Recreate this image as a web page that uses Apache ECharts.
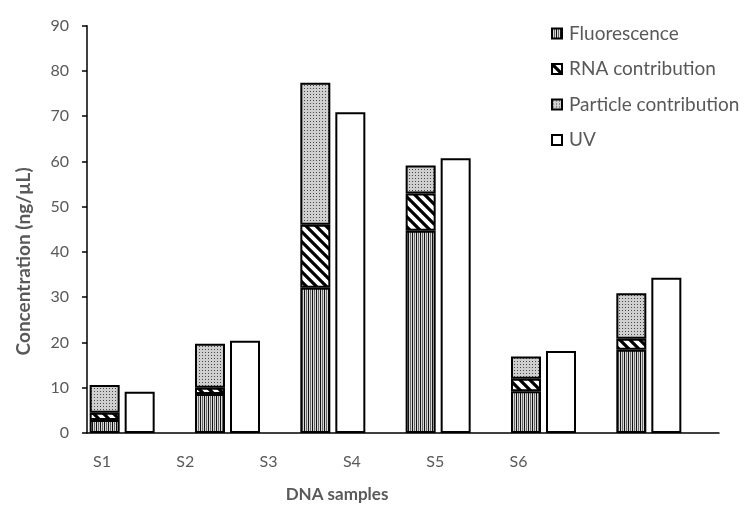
<!DOCTYPE html>
<html>
<head>
<meta charset="utf-8">
<script src="https://cdn.jsdelivr.net/npm/echarts@6/dist/echarts.min.js"></script>
<style>
html,body{margin:0;padding:0;background:#fff;}
#chart{width:749px;height:508px;}
</style>
</head>
<body>
<div id="chart"></div>
<script>
// ---- data ----
const categories = ['S1', 'S2', 'S3', 'S4', 'S5', 'S6'];
const fluorescence = [2.9, 8.6, 32.1, 44.7, 9.2, 18.4];
const rnaContribution = [1.6, 1.4, 13.9, 8.2, 2.8, 2.4];
const particleContribution = [6.1, 9.7, 31.4, 6.2, 4.9, 10.1];
const uv = [9.1, 20.4, 70.9, 60.7, 18.1, 34.3];
const yTicks = [0, 10, 20, 30, 40, 50, 60, 70, 80, 90];

// ---- fill patterns ----
function makePattern(w, h, draw) {
  const c = document.createElement('canvas');
  c.width = w; c.height = h;
  const ctx = c.getContext('2d');
  draw(ctx, w, h);
  return { image: c, repeat: 'repeat' };
}
const vertPattern = makePattern(4, 4, (ctx) => {
  const cols = ['#111', '#d8d8d8', '#666', '#d8d8d8'];
  cols.forEach((col, i) => { ctx.fillStyle = col; ctx.fillRect(i, 0, 1, 4); });
});
const diagPattern = makePattern(10, 10, (ctx, w, h) => {
  ctx.fillStyle = '#fff'; ctx.fillRect(0, 0, w, h);
  ctx.strokeStyle = '#000'; ctx.lineWidth = 3.2;
  ctx.beginPath();
  ctx.moveTo(-5, -5); ctx.lineTo(15, 15);
  ctx.moveTo(-15, -5); ctx.lineTo(5, 15);
  ctx.moveTo(5, -5); ctx.lineTo(25, 15);
  ctx.stroke();
});
const dotPattern = makePattern(3, 3, (ctx) => {
  ctx.fillStyle = '#cfcfcf'; ctx.fillRect(0, 0, 3, 3);
  ctx.fillStyle = '#4a4a4a'; ctx.fillRect(1, 1, 1, 1);
});

const FONT = 'Lato, "Open Sans", sans-serif';
const TXT = '#595959';
const border = { borderColor: '#000', borderWidth: 2 };

const chart = echarts.init(document.getElementById('chart'), null, { renderer: 'canvas' });

const option = {
  backgroundColor: '#fff',
  animation: false,
  textStyle: { fontFamily: FONT },
  legend: {
    data: ['Fluorescence', 'RNA contribution', 'Particle contribution', 'UV'],
    orient: 'vertical',
    left: 546,
    top: 19,
    itemWidth: 10,
    itemHeight: 10,
    itemGap: 16.5,
    icon: 'rect',
    textStyle: { fontSize: 19, color: TXT, fontFamily: FONT, padding: [0, 0, 0, 2] }
  },
  grid: [
    { left: 87, right: 30, top: 25.7, bottom: 71.5, containLabel: false },
    { left: 102, right: 230.5, top: 25.7, bottom: 71.5, containLabel: false }
  ],
  xAxis: [
    {
      type: 'category',
      gridIndex: 0,
      data: categories,
      boundaryGap: true,
      axisLine: { lineStyle: { color: '#000', width: 1.5 } },
      axisTick: { show: false },
      axisLabel: { show: false },
      name: 'DNA samples',
      nameLocation: 'middle',
      nameGap: 53,
      nameTextStyle: { fontSize: 17, fontWeight: 'bold', color: TXT, fontFamily: FONT, padding: [0, 132, 0, 0] }
    },
    {
      type: 'category',
      gridIndex: 1,
      data: categories,
      boundaryGap: false,
      axisLine: { show: false },
      axisTick: { show: false },
      axisLabel: { fontSize: 16, color: TXT, fontFamily: FONT, margin: 17 }
    }
  ],
  yAxis: [
    {
      type: 'value',
      gridIndex: 0,
      min: yTicks[0],
      max: yTicks[yTicks.length - 1],
      interval: 10,
      splitLine: { show: false },
      axisLine: { show: true, lineStyle: { color: '#000', width: 1.5 } },
      axisTick: { show: true, length: 5, lineStyle: { color: '#000', width: 1.5 } },
      axisLabel: { fontSize: 16, color: TXT, fontFamily: FONT, margin: 18 },
      name: 'Concentration (ng/µL)',
      nameLocation: 'middle',
      nameGap: 54,
      nameRotate: 90,
      nameTextStyle: { fontSize: 19, fontWeight: 'bold', color: TXT, fontFamily: FONT, padding: [0, 64, 0, 0] }
    },
    { type: 'value', gridIndex: 1, show: false, min: 0, max: 90 }
  ],
  series: [
    {
      name: 'Fluorescence', type: 'bar', stack: 'total', xAxisIndex: 0, yAxisIndex: 0,
      barWidth: 30, barGap: '16.7%',
      itemStyle: Object.assign({ color: vertPattern }, border),
      data: fluorescence
    },
    {
      name: 'RNA contribution', type: 'bar', stack: 'total', xAxisIndex: 0, yAxisIndex: 0,
      barWidth: 30,
      itemStyle: Object.assign({ color: diagPattern }, border),
      data: rnaContribution
    },
    {
      name: 'Particle contribution', type: 'bar', stack: 'total', xAxisIndex: 0, yAxisIndex: 0,
      barWidth: 30,
      itemStyle: Object.assign({ color: dotPattern }, border),
      data: particleContribution
    },
    {
      name: 'UV', type: 'bar', xAxisIndex: 0, yAxisIndex: 0,
      barWidth: 30, barGap: '16.7%',
      itemStyle: Object.assign({ color: '#fff' }, border),
      data: uv
    },
    {
      name: 'spacer', type: 'bar', xAxisIndex: 0, yAxisIndex: 0,
      barWidth: 30, barGap: '16.7%',
      itemStyle: { color: 'rgba(0,0,0,0)' },
      silent: true,
      data: categories.map(() => null)
    }
  ]
};
chart.setOption(option);
</script>
</body>
</html>
